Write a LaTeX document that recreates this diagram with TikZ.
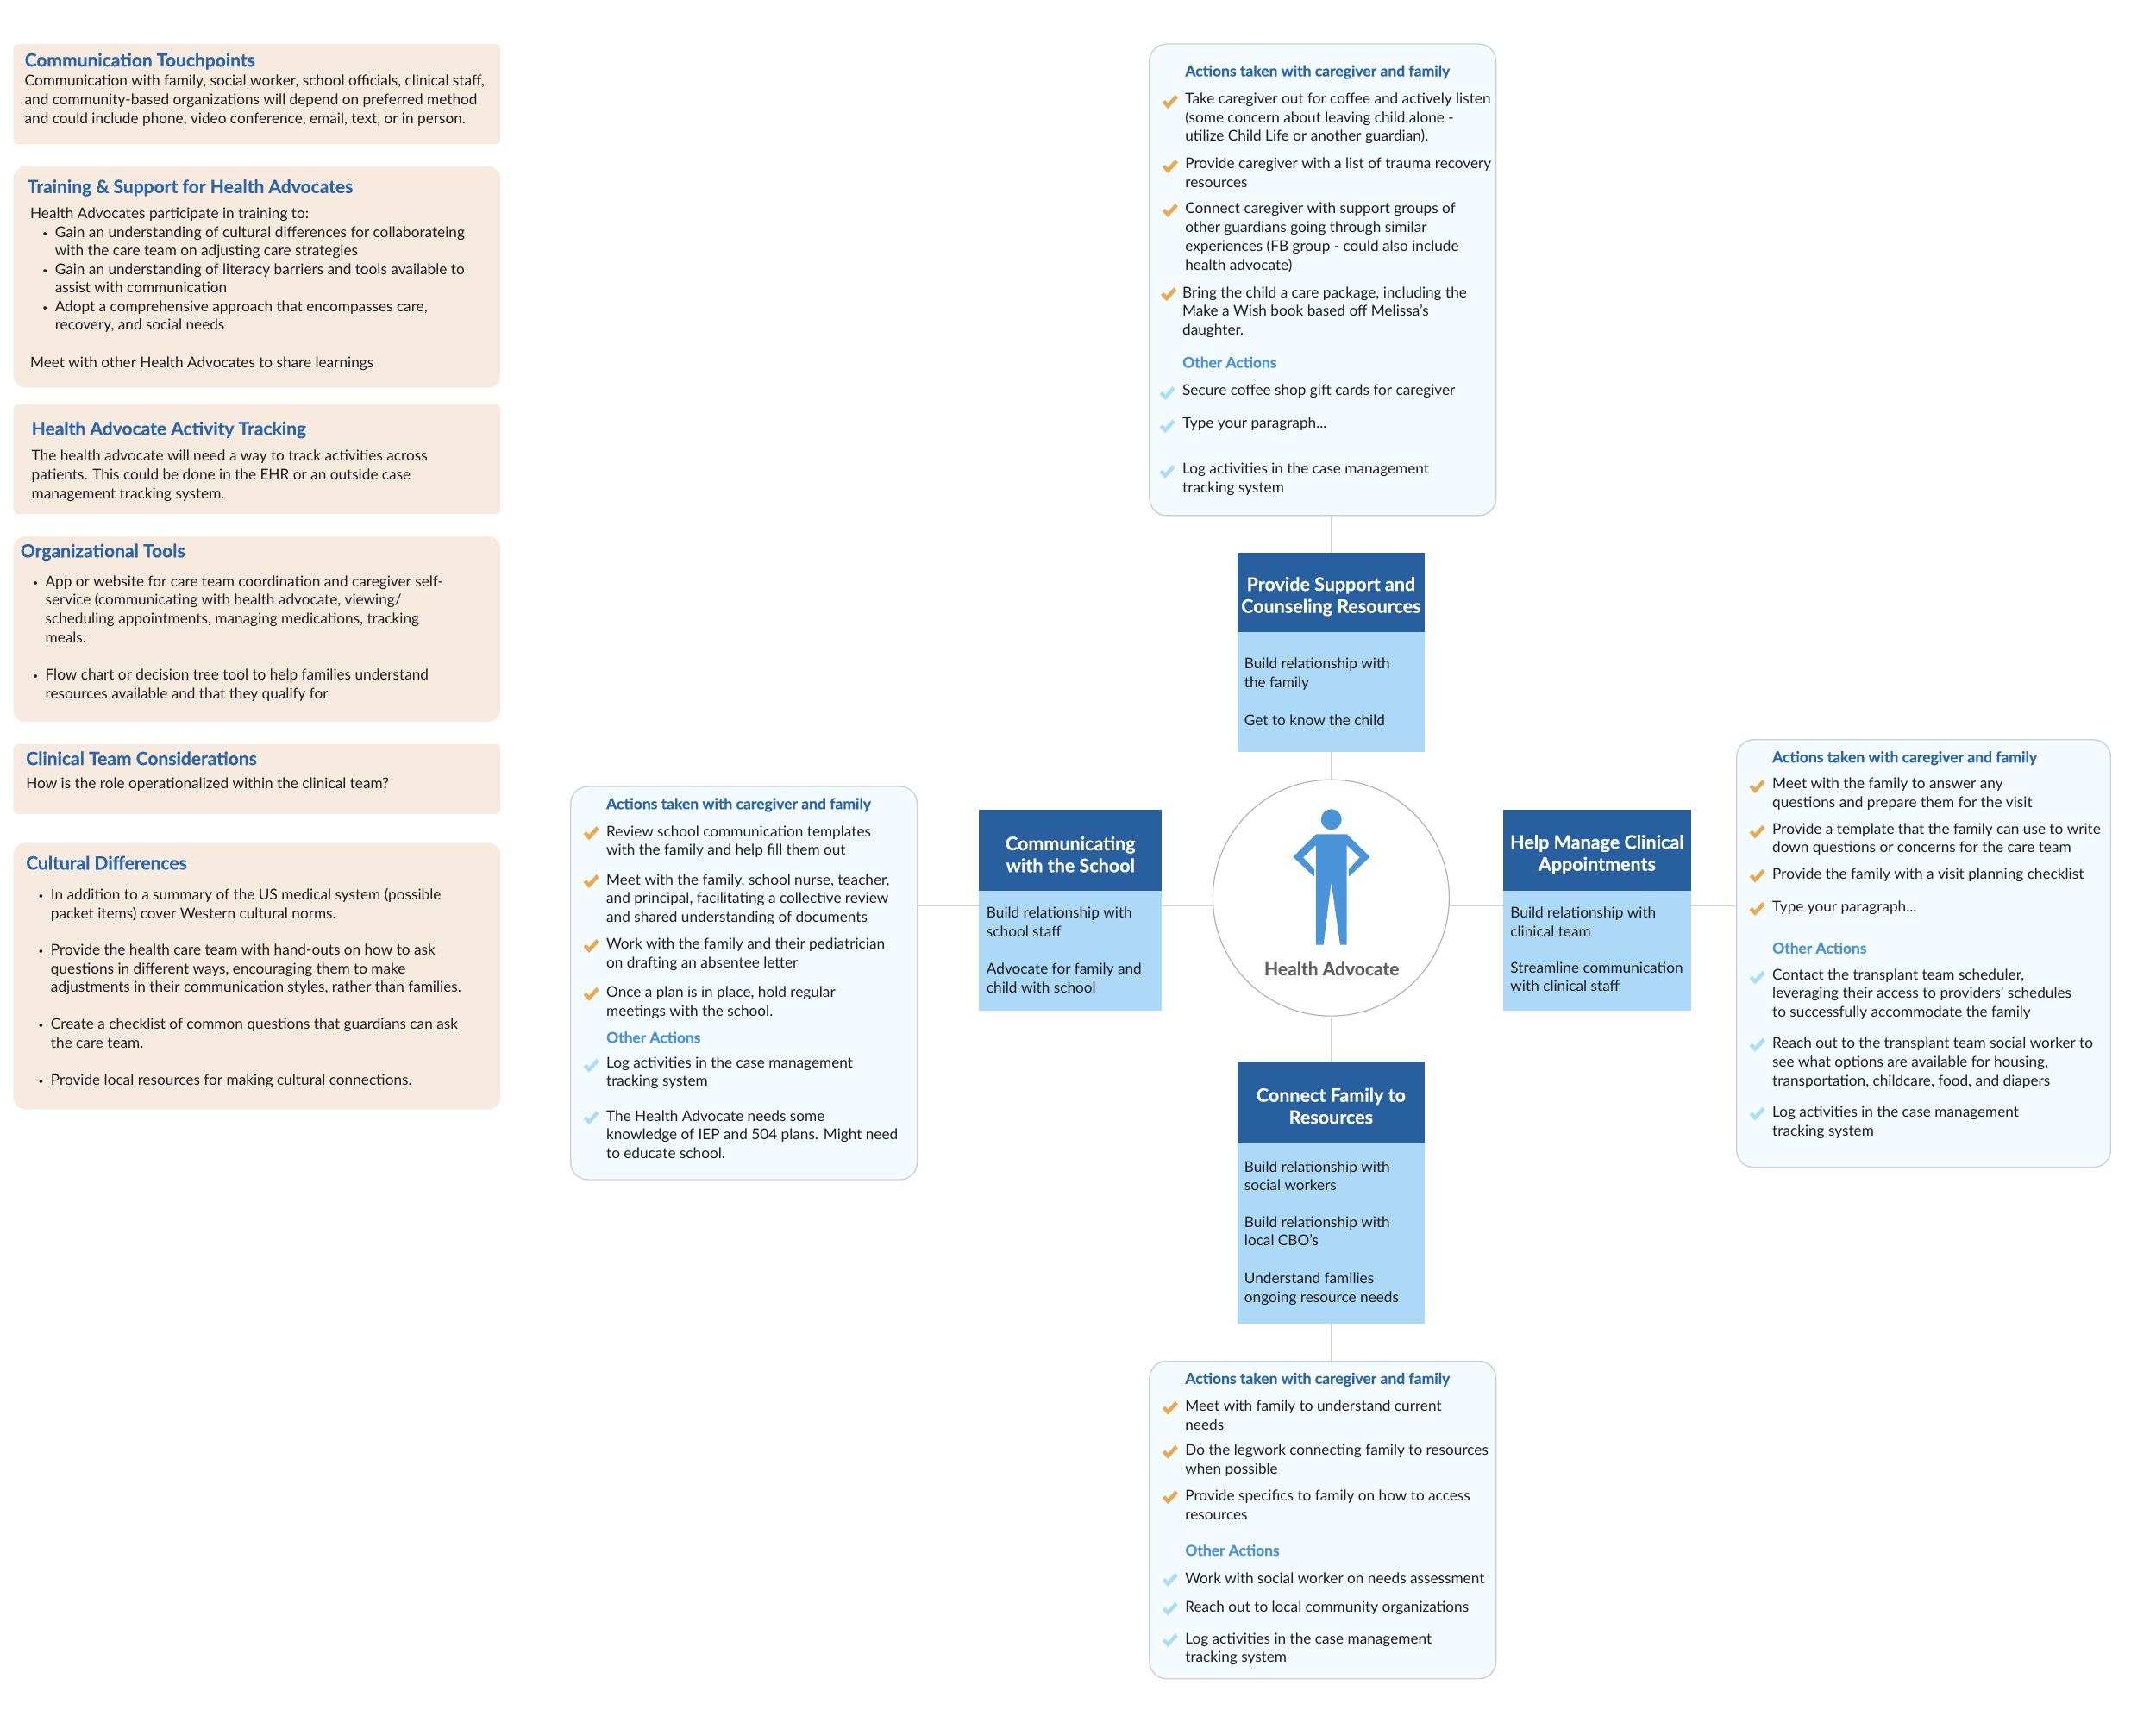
\documentclass[tikz,border=0pt]{standalone}
\usepackage{fontspec}
\setmainfont[BoldFeatures={FakeBold=0.25}]{Lato}
\usetikzlibrary{fit}
\definecolor{peach}{HTML}{F7EBE0}
\definecolor{headblue}{HTML}{2A65AC}
\definecolor{darkblue}{HTML}{28609F}
\definecolor{lightblue}{HTML}{ABD9F7}
\definecolor{panelfill}{HTML}{F3FBFF}
\definecolor{panelline}{HTML}{C9D2D6}
\definecolor{conn}{HTML}{D2D2D2}
\definecolor{orangechk}{HTML}{E9A94F}
\definecolor{bluechk}{HTML}{ABDDF9}
\definecolor{otherblue}{HTML}{4A92DA}
\definecolor{personblue}{HTML}{4A94D9}
\definecolor{ink}{HTML}{1E1E1E}
\definecolor{greytxt}{HTML}{606060}
\tikzset{
  box/.style={inner sep=0pt,outer sep=0pt,draw=none},
  peachbox/.style={box,fill=peach,rounded corners=5pt},
  peachround/.style={box,fill=peach,rounded corners=14pt},
  panel/.style={box,fill=panelfill,draw=panelline,line width=1.4pt,rounded corners=20pt},
  headbox/.style={box,fill=darkblue},
  bodybox/.style={box,fill=lightblue},
  txt/.style={anchor=north west,inner sep=0pt,outer sep=0pt,align=left,text=ink,font=\fontsize{17.2pt}{21.7pt}\selectfont},
  lefthead/.style={txt,text=headblue,font=\fontsize{21pt}{25pt}\selectfont\bfseries},
  panelhead/.style={txt,text=headblue,font=\fontsize{17.5pt}{21.7pt}\selectfont\bfseries},
  otherhead/.style={txt,text=otherblue,font=\fontsize{17.4pt}{21.7pt}\selectfont\bfseries},
  blocktitle/.style={inner sep=0pt,outer sep=0pt,align=center,text=white,yshift=-4.6pt,font=\fontsize{21.5pt}{25.5pt}\selectfont\bfseries},
  connector/.style={draw=conn,line width=1.4pt},
}
\newcommand\tx[5][txt]{\node[#1] (#2) at (#3,{#4-6}) {\strut #5};}
\newcommand\hb[4]{\node[lefthead] (#1) at (#2,{#3-6.6}) {\strut #4};}
\newcommand\bul{\llap{\raisebox{1pt}{\fontsize{10pt}{10pt}\selectfont\textbullet}\hspace{8.5pt}}}
\newcommand\chk[3]{\fill[#3,shift={(#1,#2)},x=1pt,y=-1pt] (-9,1)--(-6,-2)--(-2.5,1.5)--(6,-8)--(9,-4.5)--(-2.5,8)--cycle;}
\begin{document}
\begin{tikzpicture}[x=1.59439pt,y=-1.59439pt]
\useasboundingbox (0,0) rectangle (1568,1243.7);
% left column
\node[peachbox,fit={(9.7,32)(364,105)}] (b1) {};
\node[peachround,fit={(9.7,121)(364,282)}] (b2) {};
\node[peachbox,fit={(9.7,294)(364,374)}] (b3) {};
\node[peachround,fit={(9.7,390)(364,525)}] (b4) {};
\node[peachbox,fit={(9.7,541)(364,592)}] (b5) {};
\node[peachround,fit={(9.7,613)(364,807)}] (b6) {};
\hb{h1}{18}{44}{Communication Touchpoints}
\tx{t1}{18}{59}{Communication with family, social worker, school officials, clinical staff,\\and community-based organizations will depend on preferred method\\and could include phone, video conference, email, text, or in person.}
\hb{h2}{20}{136}{Training \& Support for Health Advocates}
\tx{t2a}{22}{155.5}{Health Advocates participate in training to:}
\tx{t2b}{40}{169}{\bul Gain an understanding of cultural differences for collaborateing\\with the care team on adjusting care strategies}
\tx{t2c}{40}{196}{\bul Gain an understanding of literacy barriers and tools available to\\assist with communication}
\tx{t2d}{40}{223}{\bul Adopt a comprehensive approach that encompasses care,\\recovery, and social needs}
\tx{t2e}{22}{264}{Meet with other Health Advocates to share learnings}
\hb{h3}{23}{312}{Health Advocate Activity Tracking}
\tx{t3}{23}{332}{The health advocate will need a way to track activities across\\patients. This could be done in the EHR or an outside case\\management tracking system.}
\hb{h4}{15}{401}{Organizational Tools}
\tx{t4a}{33}{423}{\bul App or website for care team coordination and caregiver self-\\service (communicating with health advocate, viewing/\\scheduling appointments, managing medications, tracking\\meals.}
\tx{t4b}{33}{491}{\bul Flow chart or decision tree tool to help families understand\\resources available and that they qualify for}
\hb{h5}{19}{552}{Clinical Team Considerations}
\tx{t5}{19}{570}{How is the role operationalized within the clinical team?}
\hb{h6}{19}{628}{Cultural Differences}
\tx{t6a}{37}{651}{\bul In addition to a summary of the US medical system (possible\\packet items) cover Western cultural norms.}
\tx{t6b}{37}{691}{\bul Provide the health care team with hand-outs on how to ask\\questions in different ways, encouraging them to make\\adjustments in their communication styles, rather than families.}
\tx{t6c}{37}{745}{\bul Create a checklist of common questions that guardians can ask\\the care team.}
\tx{t6d}{37}{786}{\bul Provide local resources for making cultural connections.}
% hub
\node[box,circle,draw=black!30,line width=1.2pt,minimum size=274pt] (hub) at (968,653) {};
\coordinate (hl) at (968,659);
\fill[personblue] (968.2,596) circle (7.5);
\begin{scope}[shift={(878.06,551.93)},x=0.33333pt,y=-0.33333pt]
\fill[personblue] (378,262)--(485,262)--(566,341)--(492,410)--(492,384)--(530,343)--(485,300)--(485,647)--(462,647)--(431,430)--(404,647)--(378,647)--(378,300)--(333,343)--(372,384)--(372,410)--(298,341)--cycle;
\end{scope}
\node[inner sep=0pt,text=greytxt,font=\fontsize{21pt}{24pt}\selectfont\bfseries] (hublabel) at (968.5,704.5) {Health Advocate};
% panels
\node[panel,fit={(836,32)(1088,375)}] (ptop) {};
\node[panel,fit={(415,572)(667,858)}] (pleft) {};
\node[panel,fit={(1263,538)(1535,849)}] (pright) {};
\node[panel,fit={(836,990)(1088,1221)}] (pbot) {};
% blocks
\node[headbox,fit={(900,402)(1036,460)}] (thead) {};
\node[bodybox,fit={(900,460)(1036,547)}] (tbody) {};
\node[headbox,fit={(712,589)(845,648)}] (lhead) {};
\node[bodybox,fit={(712,648)(845,735)}] (lbody) {};
\node[headbox,fit={(1093,589)(1230,648)}] (rhead) {};
\node[bodybox,fit={(1093,648)(1230,735)}] (rbody) {};
\node[headbox,fit={(900,772)(1036,831)}] (bhead) {};
\node[bodybox,fit={(900,831)(1036,963)}] (bbody) {};
\node[blocktitle] (ttitle) at (thead) {Provide Support and\\Counseling Resources};
\node[blocktitle] (ltitle) at (lhead) {Communicating\\with the School};
\node[blocktitle] (rtitle) at (rhead) {Help Manage Clinical\\Appointments};
\node[blocktitle] (btitle) at (bhead) {Connect Family to\\Resources};
\tx{tb1}{905}{483}{Build relationship with\\the family}
\tx{tb2}{905}{524}{Get to know the child}
\tx{lb1}{717.5}{664}{Build relationship with\\school staff}
\tx{lb2}{717.5}{705}{Advocate for family and\\child with school}
\tx{rb1}{1098.5}{664}{Build relationship with\\clinical team}
\tx{rb2}{1098.5}{704}{Streamline communication\\with clinical staff}
\tx{bb1}{905}{849}{Build relationship with\\social workers}
\tx{bb2}{905}{889}{Build relationship with\\local CBO's}
\tx{bb3}{905}{930}{Understand families\\ongoing resource needs}
% connectors
\draw[connector] (thead.north |- ptop.south) -- (thead.north);
\draw[connector] (tbody.south) -- (hub.north);
\draw[connector] (hub.south) -- (bhead.north);
\draw[connector] (bbody.south) -- (bbody.south |- pbot.north);
\draw[connector] (pleft.east |- hl) -- (lbody.west |- hl);
\draw[connector] (lbody.east |- hl) -- (hub.west |- hl);
\draw[connector] (hub.east |- hl) -- (rbody.west |- hl);
\draw[connector] (rbody.east |- hl) -- (pright.west |- hl);
% top panel text
\tx[panelhead]{tp0}{862}{52}{Actions taken with caregiver and family}
\tx{tp1}{862}{72}{Take caregiver out for coffee and actively listen\\(some concern about leaving child alone -\\utilize Child Life or another guardian).}
\tx{tp2}{862}{119}{Provide caregiver with a list of trauma recovery\\resources}
\tx{tp3}{862}{152}{Connect caregiver with support groups of\\other guardians going through similar\\experiences (FB group - could also include\\health advocate)}
\tx{tp4}{860}{213}{Bring the child a care package, including the\\Make a Wish book based off Melissa's\\daughter.}
\tx[otherhead]{tp5}{860}{264}{Other Actions}
\tx{tp6}{860}{284}{Secure coffee shop gift cards for caregiver}
\tx{tp7}{860}{308}{Type your paragraph...}
\tx{tp8}{860}{341}{Log activities in the case management\\tracking system}
\chk{851}{74}{orangechk}\chk{851}{121}{orangechk}\chk{851}{153}{orangechk}\chk{850}{214}{orangechk}
\chk{849}{286}{bluechk}\chk{849}{310}{bluechk}\chk{849}{343}{bluechk}
% left panel text
\tx[panelhead]{lp0}{441}{585}{Actions taken with caregiver and family}
\tx{lp1}{441}{605}{Review school communication templates\\with the family and help fill them out}
\tx{lp2}{441}{640}{Meet with the family, school nurse, teacher,\\and principal, facilitating a collective review\\and shared understanding of documents}
\tx{lp3}{441}{687}{Work with the family and their pediatrician\\on drafting an absentee letter}
\tx{lp4}{441}{722}{Once a plan is in place, hold regular\\meetings with the school.}
\tx[otherhead]{lp5}{441}{755}{Other Actions}
\tx{lp6}{441}{773}{Log activities in the case management\\tracking system}
\tx{lp7}{441}{812}{The Health Advocate needs some\\knowledge of IEP and 504 plans. Might need\\to educate school.}
\chk{430}{606}{orangechk}\chk{430}{641}{orangechk}\chk{430}{688}{orangechk}\chk{430}{723}{orangechk}
\chk{430}{775}{bluechk}\chk{430}{813}{bluechk}
% right panel text
\tx[panelhead]{rp0}{1289}{551}{Actions taken with caregiver and family}
\tx{rp1}{1289}{570}{Meet with the family to answer any\\questions and prepare them for the visit}
\tx{rp2}{1289}{603}{Provide a template that the family can use to write\\down questions or concerns for the care team}
\tx{rp3}{1289}{636}{Provide the family with a visit planning checklist}
\tx{rp4}{1289}{660}{Type your paragraph...}
\tx[otherhead]{rp5}{1289}{690}{Other Actions}
\tx{rp6}{1289}{709}{Contact the transplant team scheduler,\\leveraging their access to providers' schedules\\to successfully accommodate the family}
\tx{rp7}{1289}{759}{Reach out to the transplant team social worker to\\see what options are available for housing,\\transportation, childcare, food, and diapers}
\tx{rp8}{1289}{809}{Log activities in the case management\\tracking system}
\chk{1278}{572}{orangechk}\chk{1278}{605}{orangechk}\chk{1278}{637}{orangechk}\chk{1278}{661}{orangechk}
\chk{1278}{711}{bluechk}\chk{1278}{760}{bluechk}\chk{1278}{810}{bluechk}
% bottom panel text
\tx[panelhead]{bp0}{862}{1003}{Actions taken with caregiver and family}
\tx{bp1}{862}{1023}{Meet with family to understand current\\needs}
\tx{bp2}{862}{1055}{Do the legwork connecting family to resources\\when possible}
\tx{bp3}{862}{1088}{Provide specifics to family on how to access\\resources}
\tx[otherhead]{bp4}{862}{1128}{Other Actions}
\tx{bp5}{862}{1148}{Work with social worker on needs assessment}
\tx{bp6}{862}{1169}{Reach out to local community organizations}
\tx{bp7}{862}{1192}{Log activities in the case management\\tracking system}
\chk{851}{1024}{orangechk}\chk{851}{1056}{orangechk}\chk{851}{1089}{orangechk}
\chk{851}{1149}{bluechk}\chk{851}{1170}{bluechk}\chk{851}{1193}{bluechk}
\end{tikzpicture}
\end{document}
